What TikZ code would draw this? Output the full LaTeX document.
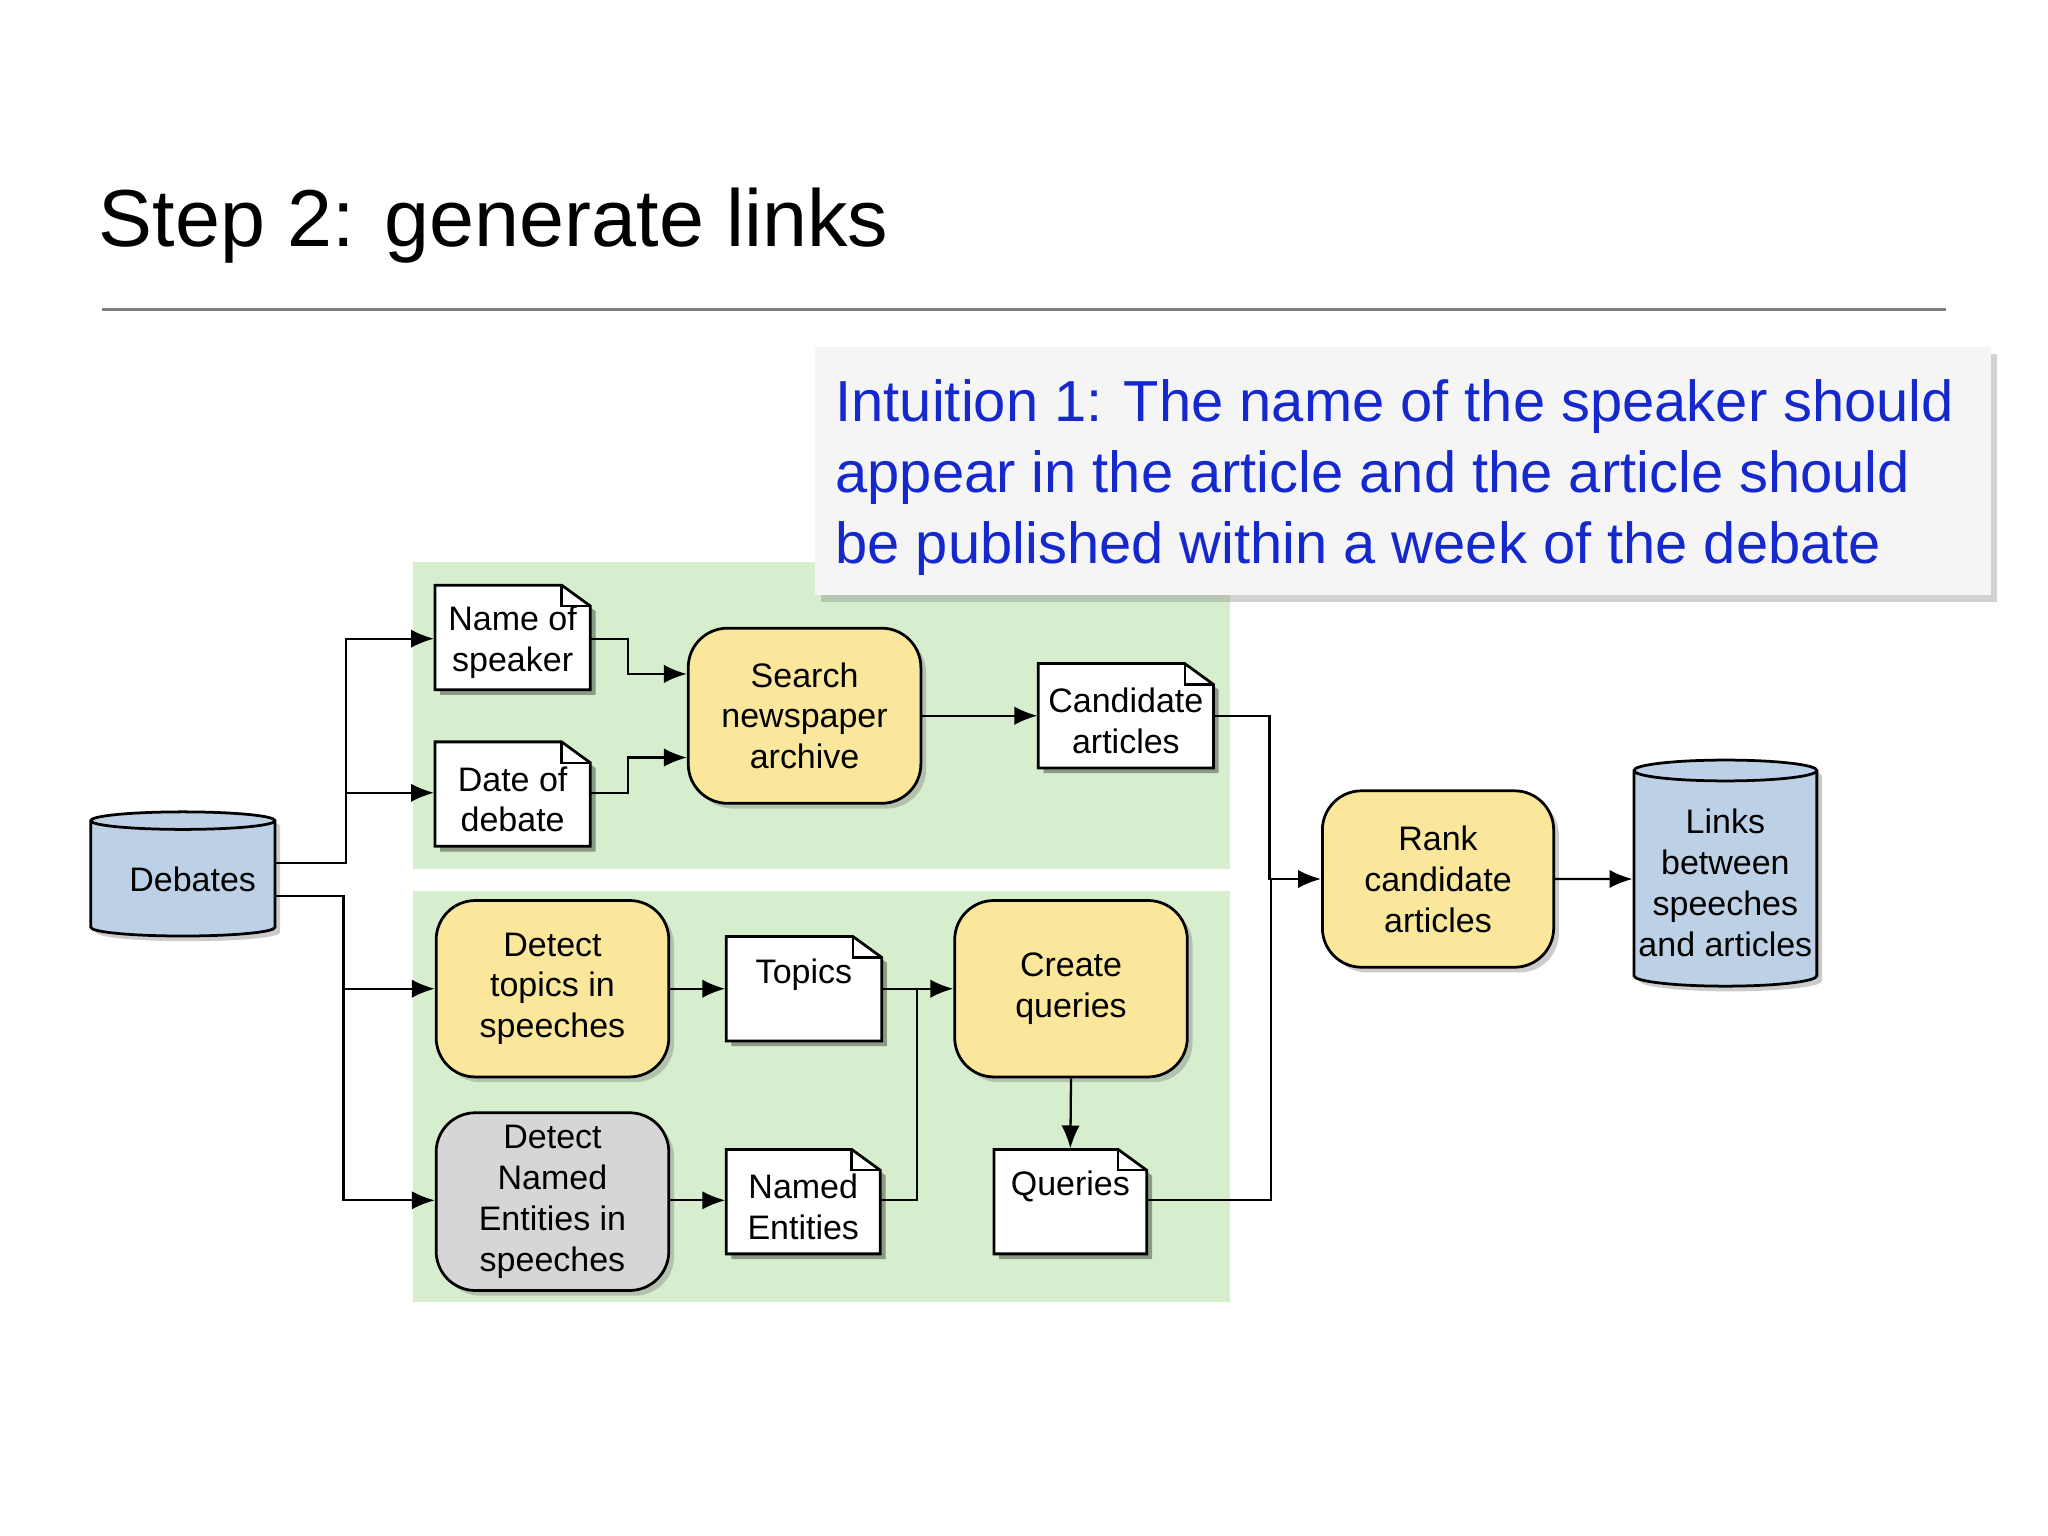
\documentclass[tikz,border=0pt]{standalone}
\usepackage{fontspec}
\setmainfont{Liberation Sans}
\usetikzlibrary{shapes.geometric,shadows,arrows.meta}
\definecolor{grn}{RGB}{214,238,205}
\definecolor{ylw}{RGB}{250,231,155}
\definecolor{blu}{RGB}{188,208,230}
\definecolor{gry}{RGB}{214,214,214}
\definecolor{itx}{RGB}{20,40,205}
\begin{document}
\begin{tikzpicture}[x=0.01cm,y=-0.01cm,
  txt/.style={font=\fontsize{7.4}{8.9}\selectfont,align=center,inner sep=0pt},
  proc/.style={txt,draw,rounded corners=0.3cm,line width=0.6pt,drop shadow={shadow xshift=0.04cm,shadow yshift=-0.04cm,opacity=0.4}},
  doc/.style={txt},
  db/.style={txt,cylinder,shape border rotate=90,draw,fill=blu,line width=0.6pt,aspect=0.12,drop shadow={shadow xshift=0.04cm,shadow yshift=-0.04cm,opacity=0.4}},
  arr/.style={-{Latex[length=5pt,width=4pt]},line width=0.5pt},
  ln/.style={line width=0.5pt}]
\useasboundingbox (0,0) rectangle (1568,1176);
\fill[white] (0,0) rectangle (1568,1176);
\node[anchor=base west,inner sep=0pt,font=\fontsize{17.6}{20}\selectfont] (title) at (75,189) {Step 2: generate links};
\draw[gray,line width=0.6pt] (78,237) -- (1490,237);
\fill[grn] (316,430) rectangle (942,665);
\fill[grn] (316,682) rectangle (942,997);
\node[fill=gray!8,minimum width=9cm,minimum height=1.9cm,anchor=north west,inner sep=0pt,drop shadow={shadow xshift=0.05cm,shadow yshift=-0.05cm,opacity=0.35}] (ibox) at (623,265) {};
\node[anchor=north west,align=left,text=itx,inner sep=0pt,font=\fontsize{12.6}{15.4}\selectfont] (itext) at (639,290) {Intuition 1: The name of the speaker should\\appear in the article and the article should\\be published within a week of the debate};
% documents
\newcommand{\docshape}[7]{%
  \fill[black,opacity=0.35] (#2+4,#3+4) -- (#4+4-22,#3+4) -- (#4+4,#3+4+16) -- (#4+4,#5+4) -- (#2+4,#5+4) -- cycle;
  \draw[fill=white,line width=0.6pt] (#2,#3) -- (#4-22,#3) -- (#4,#3+16) -- (#4,#5) -- (#2,#5) -- cycle;
  \draw[line width=0.5pt] (#4-22,#3) -- (#4-22,#3+16) -- (#4,#3+16);
  \node[inner sep=0pt,minimum width={(#4-#2)*0.01cm},minimum height={(#5-#3)*0.01cm}] (#1) at ({(#2+#4)/2},{(#3+#5)/2}) {};
  \node[doc] (#1-t) at ({(#2+#4)/2},{(#3+#5)/2+#7}) {#6};}
\docshape{name}{333}{448}{452}{528}{Name of\\speaker}{4}
\docshape{date}{333}{568}{452}{648}{Date of\\debate}{4}
\docshape{cand}{795}{508}{929}{588}{Candidate\\articles}{4}
\docshape{topics}{556}{717}{675}{797}{Topics}{-11}
\docshape{ne}{556}{880}{674}{960}{Named\\Entities}{4}
\docshape{queries}{761}{880}{878}{960}{Queries}{-12}
% processes
\node[proc,fill=ylw,minimum width=1.78cm,minimum height=1.34cm] (search) at (616,548) {Search\\newspaper\\archive};
\node[proc,fill=ylw,minimum width=1.77cm,minimum height=1.35cm] (rank) at (1101,673) {Rank\\candidate\\articles};
\node[proc,fill=ylw,minimum width=1.78cm,minimum height=1.35cm] (dtop) at (423,757) {Detect\\topics in\\speeches};
\node[proc,fill=ylw,minimum width=1.78cm,minimum height=1.35cm] (cq) at (820,757) {Create\\queries};
\node[proc,fill=gry,minimum width=1.78cm,minimum height=1.36cm] (dne) at (423,920) {Detect\\Named\\Entities in\\speeches};
\node[db,minimum width=1.41cm,minimum height=0.95cm] (debates) at (140,673) {\hspace*{0.15cm}Debates};
\node[db,minimum width=1.40cm,minimum height=1.73cm] (links) at (1321,673) {\\[-2pt]Links\\between\\speeches\\and articles};
% connectors
\draw[arr] (debates.east |- 0,661) -| (265,489) -- (name.west |- 0,489);
\draw[arr] (265,607) -- (date.west |- 0,607);
\draw[arr] (debates.east |- 0,686) -| (263,757) -- (dtop.west |- 0,757);
\draw[arr] (263,757) |- (dne.west |- 0,919);
\draw[arr] (name.east |- 0,489) -| (481,516) -- (search.west |- 0,516);
\draw[arr] (date.east |- 0,607) -| (481,580) -- (search.west |- 0,580);
\draw[arr] (search.east) -- (cand.west |- search.east);
\draw[arr] (cand.east |- 0,548) -| (972,673) -- (rank.west);
\draw[ln] (queries.east |- 0,919) -| (973,673);
\draw[arr] (rank.east) -- (links.west);
\draw[arr] (dtop.east) -- (topics.west |- dtop.east);
\draw[arr] (topics.east |- 0,757) -- (cq.west);
\draw[ln] (ne.east |- 0,919) -| (702,757);
\draw[arr] (ne.west |- 0,919) ++(-42,0) -- (ne.west |- 0,919);
\draw[arr] (cq.south) -- (queries.north);
\end{tikzpicture}
\end{document}
